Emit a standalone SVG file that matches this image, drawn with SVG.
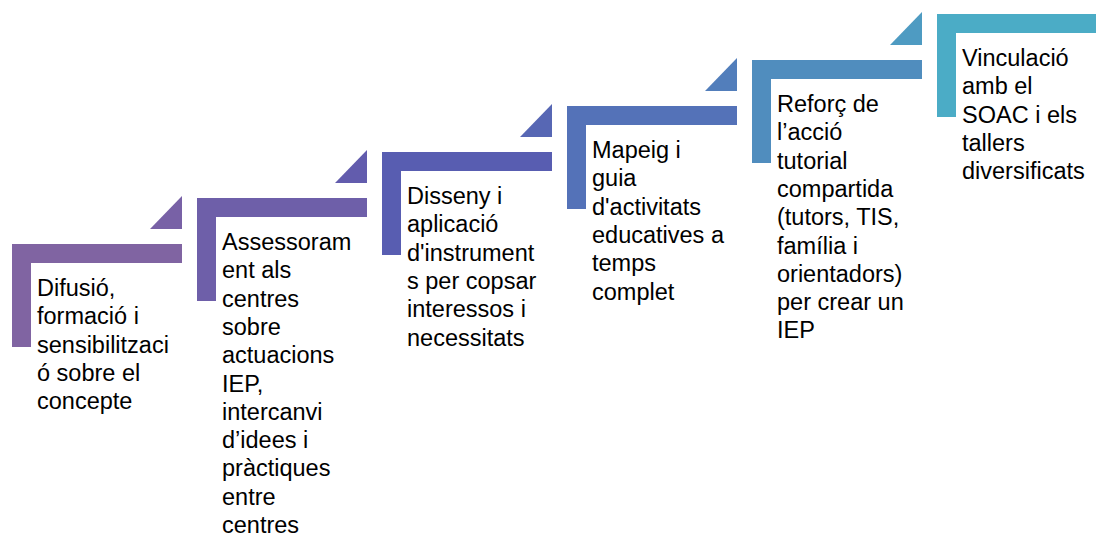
<svg xmlns="http://www.w3.org/2000/svg" width="1096" height="537" viewBox="0 0 1096 537">
  <style>
    .lbl { font-family: "Liberation Sans", Arial, sans-serif; font-size: 23.5px; fill: #000000; }
  </style>
  <defs>
    <!-- corner bracket of one step -->
    <path id="bracket" d="M0 0 H170 V19 H19 V103 H0 Z"/>
    <!-- small wedge pointing up to the next step -->
    <path id="wedge" d="M170 -48 V-15 H138 Z"/>
  </defs>
  <rect width="1096" height="537" fill="#ffffff"/>

  <g id="connectors">
    <use href="#wedge" transform="translate(12,244)" fill="#7861A6"/>
    <use href="#wedge" transform="translate(197,198)" fill="#625CAD"/>
    <use href="#wedge" transform="translate(382,152)" fill="#5767B4"/>
    <use href="#wedge" transform="translate(567,106)" fill="#527EBB"/>
    <use href="#wedge" transform="translate(752,60)" fill="#4E9BC2"/>
  </g>

  <g id="step1" transform="translate(12,244)">
    <use href="#bracket" fill="#8064A2"/>
    <text class="lbl" x="25" y="52">
      <tspan x="25">Difusió,</tspan>
      <tspan x="25" dy="28.3">formació i</tspan>
      <tspan x="25" dy="28.3">sensibilitzaci</tspan>
      <tspan x="25" dy="28.3">ó sobre el</tspan>
      <tspan x="25" dy="28.3">concepte</tspan>
    </text>
  </g>

  <g id="step2" transform="translate(197,198)">
    <use href="#bracket" fill="#6E5FA9"/>
    <text class="lbl" x="25" y="52">
      <tspan x="25">Assessoram</tspan>
      <tspan x="25" dy="28.3">ent als</tspan>
      <tspan x="25" dy="28.3">centres</tspan>
      <tspan x="25" dy="28.3">sobre</tspan>
      <tspan x="25" dy="28.3">actuacions</tspan>
      <tspan x="25" dy="28.3">IEP,</tspan>
      <tspan x="25" dy="28.3">intercanvi</tspan>
      <tspan x="25" dy="28.3">d’idees i</tspan>
      <tspan x="25" dy="28.3">pràctiques</tspan>
      <tspan x="25" dy="28.3">entre</tspan>
      <tspan x="25" dy="28.3">centres</tspan>
    </text>
  </g>

  <g id="step3" transform="translate(382,152)">
    <use href="#bracket" fill="#585DB1"/>
    <text class="lbl" x="25" y="52">
      <tspan x="25">Disseny i</tspan>
      <tspan x="25" dy="28.3">aplicació</tspan>
      <tspan x="25" dy="28.3">d'instrument</tspan>
      <tspan x="25" dy="28.3">s per copsar</tspan>
      <tspan x="25" dy="28.3">interessos i</tspan>
      <tspan x="25" dy="28.3">necessitats</tspan>
    </text>
  </g>

  <g id="step4" transform="translate(567,106)">
    <use href="#bracket" fill="#5472B8"/>
    <text class="lbl" x="25" y="52">
      <tspan x="25">Mapeig i</tspan>
      <tspan x="25" dy="28.3">guia</tspan>
      <tspan x="25" dy="28.3">d'activitats</tspan>
      <tspan x="25" dy="28.3">educatives a</tspan>
      <tspan x="25" dy="28.3">temps</tspan>
      <tspan x="25" dy="28.3">complet</tspan>
    </text>
  </g>

  <g id="step5" transform="translate(752,60)">
    <use href="#bracket" fill="#508DBE"/>
    <text class="lbl" x="25" y="52">
      <tspan x="25">Reforç de</tspan>
      <tspan x="25" dy="28.3">l’acció</tspan>
      <tspan x="25" dy="28.3">tutorial</tspan>
      <tspan x="25" dy="28.3">compartida</tspan>
      <tspan x="25" dy="28.3">(tutors, TIS,</tspan>
      <tspan x="25" dy="28.3">família i</tspan>
      <tspan x="25" dy="28.3">orientadors)</tspan>
      <tspan x="25" dy="28.3">per crear un</tspan>
      <tspan x="25" dy="28.3">IEP</tspan>
    </text>
  </g>

  <g id="step6" transform="translate(937,14)">
    <use href="#bracket" fill="#4BACC6"/>
    <text class="lbl" x="25" y="52">
      <tspan x="25">Vinculació</tspan>
      <tspan x="25" dy="28.3">amb el</tspan>
      <tspan x="25" dy="28.3">SOAC i els</tspan>
      <tspan x="25" dy="28.3">tallers</tspan>
      <tspan x="25" dy="28.3">diversificats</tspan>
    </text>
  </g>
</svg>
